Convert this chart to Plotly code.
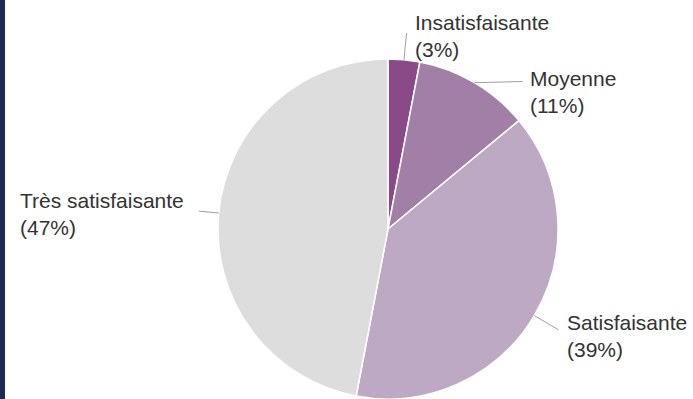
import math
import plotly.graph_objects as go

# data
labels = ['Insatisfaisante', 'Moyenne', 'Satisfaisante', 'Très satisfaisante']
values = [3, 11, 39, 47]
colors = ['#8a4a88', '#a27fa6', '#bea9c4', '#dddddd']

W, H = 693, 399
cx, cy, R = 388, 229, 170  # pie centre / radius in pixels (from top-left)

# per-label layout: leader end (radius, extra dx, dy) and text anchor offset
label_layout = {
    'Insatisfaisante': dict(r=197, ddx=0, ddy=0, tx=6, ty=3, anchor='left'),
    'Moyenne': dict(r=176, ddx=45, ddy=4, tx=5, ty=10, anchor='left'),
    'Satisfaisante': dict(r=198, ddx=0, ddy=0, tx=7, ty=6, anchor='left'),
    'Très satisfaisante': dict(r=190, ddx=0, ddy=0, tx=-13, ty=3, anchor='right'),
}


def px(x, y):
    return x / W, 1 - y / H


fig = go.Figure(go.Pie(
    labels=labels, values=values, sort=False, direction='clockwise', rotation=0,
    marker=dict(colors=colors, line=dict(color='white', width=1.5)),
    textinfo='none', hoverinfo='label+percent', showlegend=False,
    domain=dict(x=[(cx - R) / W, (cx + R) / W], y=[0, 2 * R / H]),
))

shapes = []
annotations = []
total = sum(values)
start = 0
for lab, v in zip(labels, values):
    mid = (start + v / 2) / total * 2 * math.pi
    start += v
    L = label_layout[lab]
    x0, y0 = cx + R * math.sin(mid), cy - R * math.cos(mid)
    x1 = cx + L['r'] * math.sin(mid) + L['ddx']
    y1 = cy - L['r'] * math.cos(mid) + L['ddy']
    a0, b0 = px(x0, y0)
    a1, b1 = px(x1, y1)
    shapes.append(dict(type='line', xref='paper', yref='paper', x0=a0, y0=b0, x1=a1, y1=b1,
                       line=dict(color='#a0a0a0', width=1)))
    tx, ty = px(x1 + L['tx'], y1 + L['ty'])
    pct = round(v / total * 100)
    annotations.append(dict(
        xref='paper', yref='paper', x=tx, y=ty, showarrow=False,
        text=f'{lab}<br>({pct}%)', align='left',
        xanchor=L['anchor'], yanchor='middle',
        font=dict(family='Arial, Liberation Sans, sans-serif', size=21, color='#333333'),
    ))

# dark strip on the left edge
shapes.append(dict(type='rect', xref='paper', yref='paper', x0=0, x1=5 / W, y0=0, y1=1,
                   fillcolor='#1b2b5c', line=dict(width=0), layer='above'))

fig.update_layout(
    width=W, height=H, margin=dict(l=0, r=0, t=0, b=0),
    paper_bgcolor='white', plot_bgcolor='white',
    shapes=shapes, annotations=annotations,
)

fig.write_html('out.html', config={'displayModeBar': False},
               post_script="document.body.style.margin='0';")
